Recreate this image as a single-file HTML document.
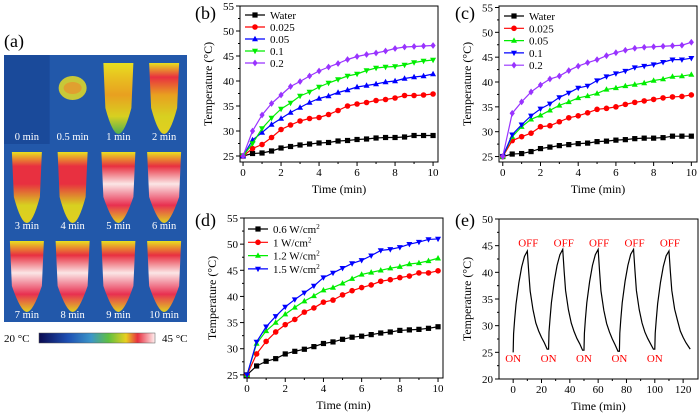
<!DOCTYPE html>
<html><head><meta charset="utf-8"><style>
html,body{margin:0;padding:0;background:#fff;}
svg, svg text{font-family:"Liberation Serif","Times New Roman",serif;}
svg{display:block;}
</style></head><body>
<svg id="fig" width="700" height="413" viewBox="0 0 700 413" xmlns="http://www.w3.org/2000/svg" font-family="Liberation Serif, serif">
<defs>
<linearGradient id="cbar" x1="0" x2="1" y1="0" y2="0">
<stop offset="0" stop-color="#0a0a50"/><stop offset="0.25" stop-color="#1e50b4"/><stop offset="0.45" stop-color="#3c96c8"/><stop offset="0.6" stop-color="#60c040"/><stop offset="0.75" stop-color="#e8d020"/><stop offset="0.85" stop-color="#e83040"/><stop offset="1" stop-color="#fff0f0"/>
</linearGradient>
</defs>
<g id="panelA"></g>
<g id="charts"></g>
</svg>
<script>
// ---- Panel (b) data ----
const timeB = [0,0.5,1,1.5,2,2.5,3,3.5,4,4.5,5,5.5,6,6.5,7,7.5,8,8.5,9,9.5,10];
const bWater = [25,25.5,25.6,26,26.6,26.9,27.2,27.4,27.6,27.7,28,28.1,28.3,28.4,28.6,28.7,28.7,28.8,29.1,29.1,29.1];
const b0025 = [25,26.5,27.3,28.7,30.3,31.2,32,32.5,32.7,33.3,34.1,35,35.4,35.7,36.1,36.3,36.6,37.1,37.1,37.2,37.4];
const b005 = [25,28.2,29.7,31.3,32.5,33.7,34.7,35.7,36.5,37,37.7,38.2,38.8,39.1,39.4,39.8,40,40.5,40.8,41,41.4];
const b01 = [25,27.5,30.5,32.6,34.4,35.6,37,37.8,38.8,39.6,40.3,41,41.4,42.1,42.6,42.8,42.9,43.2,43.7,44,44.2];
const b02 = [25,30,33.2,35.5,37.2,38.9,39.9,41,42,42.8,43.5,44.3,44.9,45.3,45.6,46,46.5,46.8,46.9,47,47.1];
// ---- Panel (c) data ----
const cWater = [25,25.5,25.6,26,26.6,26.9,27.2,27.4,27.6,27.7,28,28.1,28.3,28.4,28.6,28.7,28.7,28.8,29.1,29.1,29.1];
const c0025 = [25,28.2,29,29.7,31,31.2,32,32.8,33.2,33.8,34.5,34.7,35,35.5,35.9,36.2,36.5,36.8,37,37.1,37.4];
const c005 = [25,29,31,32.5,33.3,34.3,35.3,36,36.8,37.2,37.7,38.5,38.8,39.2,39.5,39.8,40.3,40.6,41.1,41.2,41.5];
const c01 = [25,29.4,31.4,33.2,34.6,35.6,36.9,37.8,38.8,39.2,40.3,41.1,41.7,42.2,42.9,43.2,43.5,44,44.5,44.5,44.8];
const c02 = [25,33.7,36,38,39.4,40.6,41.2,42.3,43.2,43.9,44.5,45.3,45.9,46.4,46.8,47,47.1,47.2,47.3,47.4,48];
// ---- Panel (d) data ----
const d06 = [25,26.7,27.6,28.1,29,29.5,29.9,30.4,31,31.3,31.8,32.2,32.4,32.7,33,33.2,33.5,33.6,33.7,33.9,34.2];
const d1 = [25,29,31.4,33.2,34.6,35.6,37,37.8,38.9,39.3,40.3,41.1,41.7,42.2,42.9,43.2,43.6,43.9,44.5,44.5,44.9];
const d12 = [25,31,33.4,35,36.6,37.9,39.1,40.1,41.2,41.7,42.5,43.4,44.2,44.6,45,45.4,45.7,46.2,46.4,46.8,47.3];
const d15 = [25,31.3,34.2,36.2,38,39.4,40.7,42,43.6,44.5,45.4,46.3,46.9,47.8,48.8,49,49.4,50,50.4,50.9,51];
// ---- Panel (e) data ----
const timeE = [0,0.3,1,2,4,6,8,10,11,12,14,16,18,20,22,24,
 25,25.3,26,27,29,31,33,35,36,37,39,41,43,45,47,49,
 50,50.3,51,52,54,56,58,60,61,62,64,66,68,70,72,74,
 75,75.3,76,77,79,81,83,85,86,87,89,91,93,95,97,99,
 100,100.3,101,102,104,106,108,110,111,112,114,116,118,120,122,124,125];
const tempE = [25,28.5,31,34,38,41,43,44,40,36.5,33,30.5,29,27.8,26.8,25.6,
 25.6,28.8,31.2,34.3,38.3,41.3,43.3,44.3,40.2,36.6,33,30.5,28.9,27.6,26.6,25.4,
 25.4,28.6,31.2,34.3,38.3,41.3,43.3,44.3,40.2,36.5,32.9,30.4,28.8,27.5,26.4,25.2,
 25.2,28.6,31.2,34.3,38.3,41.3,43.4,44.3,40.3,36.6,33,30.5,28.8,27.6,26.6,25.6,
 25.6,28.6,31,34.1,38.1,41.1,43.1,44,40.1,36.6,33.1,31,29,27.8,26.8,26,25.6];
const onTimes = [0,25,50,75,100];
const offTimes = [10,35,60,85,110];

const NS="http://www.w3.org/2000/svg";
const svg=document.getElementById('fig');
function el(tag,attrs,parent){const e=document.createElementNS(NS,tag);for(const k in attrs)e.setAttribute(k,attrs[k]);(parent||svg).appendChild(e);return e;}
function txt(s,attrs,parent){attrs['font-family']='Liberation Serif, serif';const e=el('text',attrs,parent);e.textContent=s;return e;}

function marker(g,type,x,y,color){
  const s=2.6;let m;
  if(type==='square') m=el('rect',{x:x-s,y:y-s,width:2*s,height:2*s,fill:color},g);
  else if(type==='circle') m=el('circle',{cx:x,cy:y,r:s+0.2,fill:color},g);
  else if(type==='up') m=el('polygon',{points:`${x},${y-s-0.6} ${x-s-0.4},${y+s-0.4} ${x+s+0.4},${y+s-0.4}`,fill:color},g);
  else if(type==='down') m=el('polygon',{points:`${x},${y+s+0.6} ${x-s-0.4},${y-s+0.4} ${x+s+0.4},${y-s+0.4}`,fill:color},g);
  else m=el('polygon',{points:`${x},${y-s-0.8} ${x+s},${y} ${x},${y+s+0.8} ${x-s},${y}`,fill:color},g);
  
  
}

function chart(cfg){
  const g=el('g',{});
  
  
  const {L,R,T,B,xmin,xmax,ymin,ymax}=cfg;
  const sx=v=>L+(v-xmin)/(xmax-xmin)*(R-L);
  const sy=v=>B-(v-ymin)/(ymax-ymin)*(B-T);
  const frame=el('rect',{x:L,y:T,width:R-L,height:B-T,fill:'none',stroke:'#000','stroke-width':1},g);
  
  
  cfg.xticks.forEach((t,i)=>{
    const x=sx(t);
    el('line',{x1:x,x2:x,y1:B,y2:B+4,stroke:'#000','stroke-width':1},g);
    const lb=txt(String(t),{x:x,y:B+14,'font-size':11,'text-anchor':'middle'},g);
    
    
    if(i<cfg.xticks.length-1){const xm=sx((t+cfg.xticks[i+1])/2);el('line',{x1:xm,x2:xm,y1:B,y2:B+2,stroke:'#000','stroke-width':1},g);}
  });
  cfg.yticks.forEach((t,i)=>{
    const y=sy(t);
    el('line',{x1:L-4,x2:L,y1:y,y2:y,stroke:'#000','stroke-width':1},g);
    const lb=txt(String(t),{x:L-6,y:y+4,'font-size':11,'text-anchor':'end'},g);
    
    
    if(i<cfg.yticks.length-1){const ym=sy(t+(cfg.yticks[1]-cfg.yticks[0])/2);el('line',{x1:L-2,x2:L,y1:ym,y2:ym,stroke:'#000','stroke-width':1},g);}
  });
  const xt=txt('Time (min)',{x:(L+R)/2,y:B+31,'font-size':12,'text-anchor':'middle'},g);
  
  
  const yx=L-28, yy=(T+B)/2;
  const yt=txt('Temperature (\u00B0C)',{x:yx,y:yy,'font-size':12,'text-anchor':'middle',transform:`rotate(-90 ${yx} ${yy})`},g);
  
  
  const pl=txt(cfg.label,{x:cfg.labelX,y:cfg.labelY,'font-size':18},g);
  
  
  (cfg.series||[]).forEach((s,si)=>{
    const sg=el('g',{},g);
    
    
    const pts=s.x.map((xv,i)=>`${sx(xv)},${sy(s.y[i])}`).join(' ');
    el('polyline',{points:pts,fill:'none',stroke:s.color,'stroke-width':1.2},sg);
    if(s.marker) s.x.forEach((xv,i)=>marker(sg,s.marker,sx(xv),sy(s.y[i]),s.color));
    if(cfg.legend){
      const ly=cfg.legend.y+si*cfg.legend.dy;
      const lg=el('g',{},g);
      
      
      el('line',{x1:cfg.legend.x,x2:cfg.legend.x+20,y1:ly,y2:ly,stroke:s.color,'stroke-width':1.2},lg);
      marker(lg,s.marker,cfg.legend.x+10,ly,s.color);
      const t=txt('',{x:cfg.legend.x+25,y:ly+4,'font-size':11},lg);
      t.innerHTML=s.label;
    }
  });
  return {g,sx,sy};
}

const P='#9933ff';
chart({name:'chart-b',label:'(b)',labelX:195,labelY:19,L:240,R:438,T:6,B:162,xmin:-0.16,xmax:10.26,ymin:23.8,ymax:55,
  xticks:[0,2,4,6,8,10],yticks:[25,30,35,40,45,50,55],legend:{x:245,y:15,dy:12},
  series:[{key:'water',label:'Water',x:timeB,y:bWater,color:'#000',marker:'square'},
  {key:'0025',label:'0.025',x:timeB,y:b0025,color:'#ff0000',marker:'circle'},
  {key:'005',label:'0.05',x:timeB,y:b005,color:'#0000ff',marker:'up'},
  {key:'01',label:'0.1',x:timeB,y:b01,color:'#00ee00',marker:'down'},
  {key:'02',label:'0.2',x:timeB,y:b02,color:P,marker:'diamond'}]});
chart({name:'chart-c',label:'(c)',labelX:455,labelY:19,L:499,R:697,T:6,B:162,xmin:-0.2,xmax:10.3,ymin:23.9,ymax:55.3,
  xticks:[0,2,4,6,8,10],yticks:[25,30,35,40,45,50,55],legend:{x:504,y:16,dy:12.3},
  series:[{key:'water',label:'Water',x:timeB,y:cWater,color:'#000',marker:'square'},
  {key:'0025',label:'0.025',x:timeB,y:c0025,color:'#ff0000',marker:'circle'},
  {key:'005',label:'0.05',x:timeB,y:c005,color:'#00ee00',marker:'up'},
  {key:'01',label:'0.1',x:timeB,y:c01,color:'#0000ff',marker:'down'},
  {key:'02',label:'0.2',x:timeB,y:c02,color:P,marker:'diamond'}]});
chart({name:'chart-d',label:'(d)',labelX:195,labelY:226,L:244,R:443,T:218,B:378,xmin:-0.16,xmax:10.26,ymin:24.4,ymax:55,
  xticks:[0,2,4,6,8,10],yticks:[25,30,35,40,45,50,55],legend:{x:248,y:229,dy:13.3},
  series:[{key:'06',label:'0.6 W/cm<tspan font-size="7" dy="-4">2</tspan>',x:timeB,y:d06,color:'#000',marker:'square'},
  {key:'1',label:'1 W/cm<tspan font-size="7" dy="-4">2</tspan>',x:timeB,y:d1,color:'#ff0000',marker:'circle'},
  {key:'12',label:'1.2 W/cm<tspan font-size="7" dy="-4">2</tspan>',x:timeB,y:d12,color:'#00ee00',marker:'up'},
  {key:'15',label:'1.5 W/cm<tspan font-size="7" dy="-4">2</tspan>',x:timeB,y:d15,color:'#0000ff',marker:'down'}]});
const e=chart({name:'chart-e',label:'(e)',labelX:455,labelY:226,L:499,R:698,T:219,B:379,xmin:-10,xmax:130.5,ymin:20,ymax:50,
  xticks:[0,20,40,60,80,100,120],yticks:[20,25,30,35,40,45,50],
  series:[{key:'cycling',x:timeE,y:tempE,color:'#000'}]});
onTimes.forEach(t=>{const o=txt('ON',{x:e.sx(t),y:e.sy(23.2),'font-size':11,fill:'#ff0000','text-anchor':'middle'},e.g);
  
  });
offTimes.forEach(t=>{const o=txt('OFF',{x:e.sx(t)+1,y:e.sy(44.8),'font-size':11,fill:'#ff0000','text-anchor':'middle'},e.g);
  
  });

// ---- Panel (a) thermal images ----
const heat=[0,0.35,0.5,0.7,0.8,0.85,0.92,0.96,0.97,0.97,0.98,0.99];
const labelsA=['0 min','0.5 min','1 min','2 min','3 min','4 min','5 min','6 min','7 min','8 min','9 min','10 min'];
const A=document.getElementById('panelA');
const al=txt('(a)',{x:4,y:47,'font-size':18},A);


const defs=svg.querySelector('defs');
el('rect',{x:4,y:55,width:183,height:267,fill:'#1f55a8'},A);
const cw=183/4, ch=267/3;
heat.forEach((h,i)=>{
  const c=i%4,r=Math.floor(i/4);const x0=4+c*cw,y0=55+r*ch;
  const cell=el('g',{},A);
  
  
  el('rect',{x:x0,y:y0,width:cw,height:ch,fill:i===0?'#1a4a9a':'#2258aa'},cell);
  if(h>0){
    const gid='tg'+i;
    const lg=el('linearGradient',{id:gid,x1:0,x2:0,y1:0,y2:1},defs);
    const mid=h>0.9?'#fbe6e6':(h>0.75?'#e83040':'#e8a020');
    el('stop',{offset:0,'stop-color':'#e8e020'},lg);
    el('stop',{offset:0.2,'stop-color':h>0.6?'#e83040':'#e8c020'},lg);
    el('stop',{offset:0.45,'stop-color':mid},lg);
    el('stop',{offset:0.75,'stop-color':h>0.9?'#e83050':'#d8d020'},lg);
    el('stop',{offset:1,'stop-color':h>0.6?'#e0d020':'#50b050'},lg);
    const tx=x0+cw/2;
    if(i===1){
      el('ellipse',{cx:tx,cy:y0+33,rx:14,ry:12,fill:'#c8c838'},cell);
      el('ellipse',{cx:tx,cy:y0+33,rx:9,ry:6,fill:'#e0a030'},cell);
    } else {
      const w=h>0.85?17:15,top=y0+8,bot=y0+ch-10;
      el('path',{d:`M${tx-w},${top} L${tx+w},${top} L${tx+w-2},${top+45} Q${tx+6},${bot} ${tx},${bot} Q${tx-6},${bot} ${tx-w+2},${top+45} Z`,fill:`url(#${gid})`},cell);
    }
  }
  const lt=txt(labelsA[i],{x:x0+cw/2,y:y0+ch-4,'font-size':10.5,fill:'#fff','text-anchor':'middle'},cell);
  
  
});
const cb=el('rect',{x:39,y:333,width:116,height:10,fill:'url(#cbar)',stroke:'#555','stroke-width':0.5},A);


const t1=txt('20 \u00B0C',{x:4,y:342,'font-size':11},A);


const t2=txt('45 \u00B0C',{x:162,y:342,'font-size':11},A);


</script>
</body></html>
